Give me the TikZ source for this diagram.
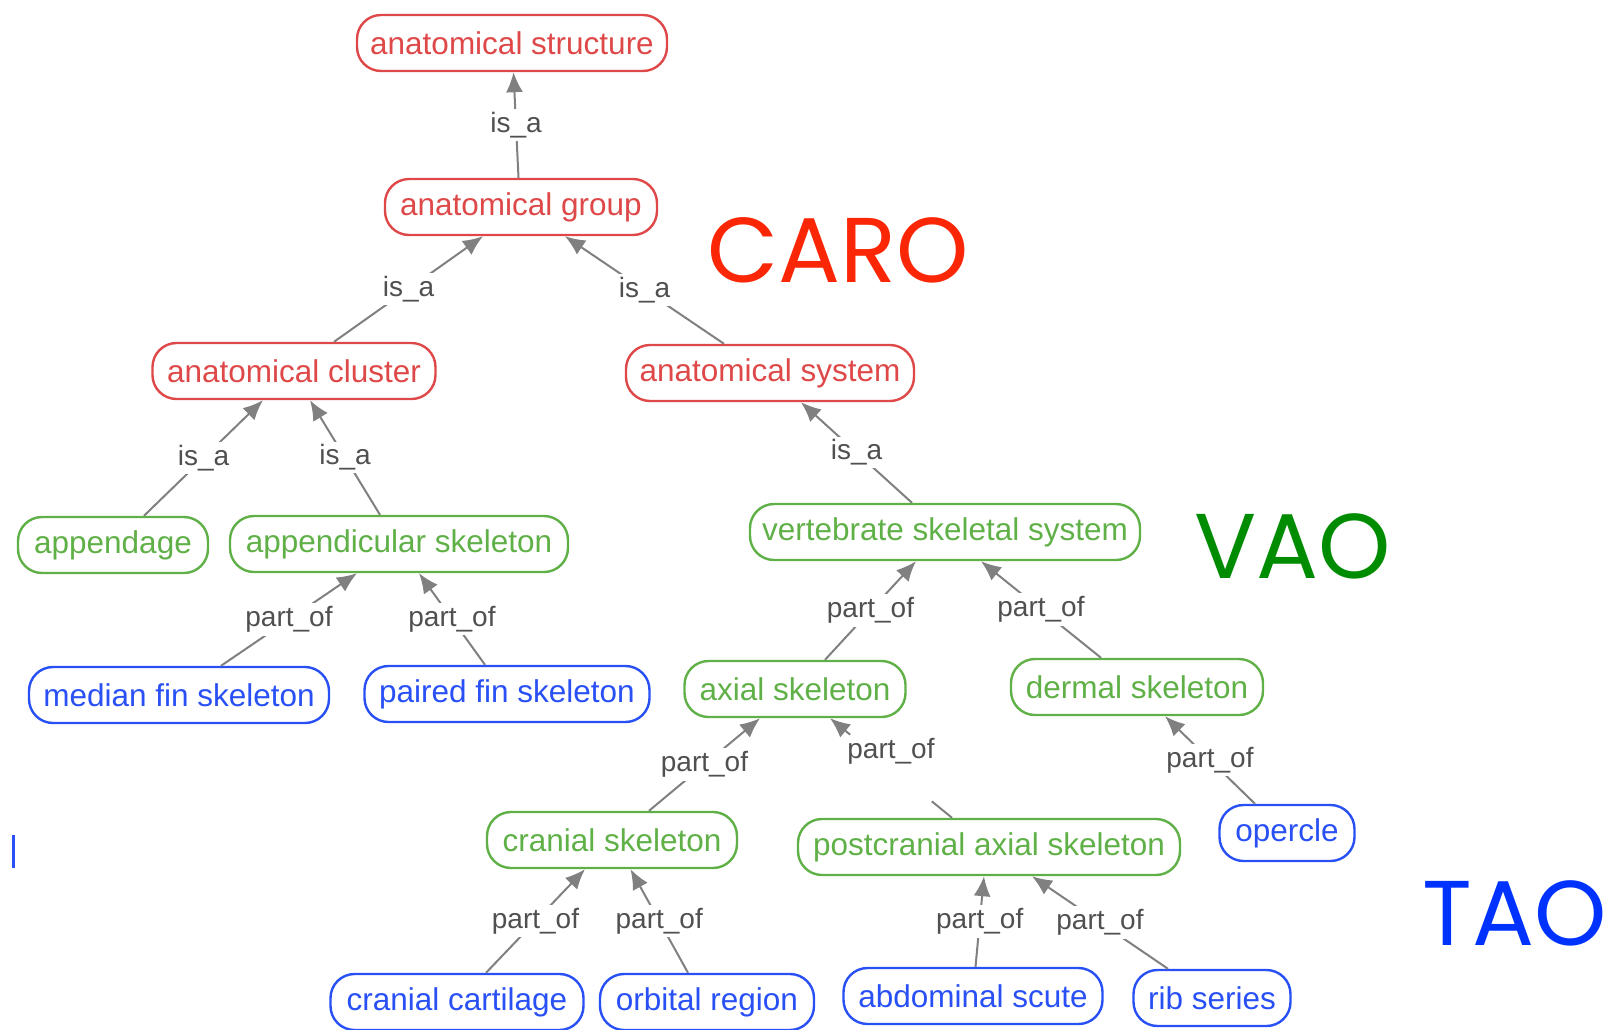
\documentclass[tikz,border=0pt]{standalone}
\usepackage{fontspec}
\setmainfont{Liberation Sans}
\newfontfamily\bigfont{Poppins}
\usetikzlibrary{arrows.meta,calc}
\definecolor{cred}{RGB}{222,72,72}
\definecolor{cgreen}{RGB}{96,176,72}
\definecolor{cblue}{RGB}{40,80,245}
\definecolor{cgray}{RGB}{128,128,128}
\definecolor{lgray}{RGB}{80,80,80}
\definecolor{bigred}{RGB}{250,38,5}
\definecolor{biggreen}{RGB}{0,140,0}
\definecolor{bigblue}{RGB}{0,50,255}
\tikzset{
  box/.style={draw, rounded corners=24pt, line width=2.4pt, minimum height=56pt,
    inner sep=0pt, font=\fontsize{31.5}{33}\selectfont},
  redbox/.style={box, draw=cred, text=cred},
  greenbox/.style={box, draw=cgreen, text=cgreen},
  bluebox/.style={box, draw=cblue, text=cblue},
  conn/.style={draw=cgray, line width=2pt, -{Latex[length=20pt,width=17pt]}},
  plainconn/.style={draw=cgray, line width=2pt},
  lab/.style={fill=white, text=lgray, inner sep=3pt, font=\fontsize{28}{30}\selectfont},
  big/.style={font=\bigfont\fontsize{92}{96}\selectfont, inner sep=0pt}
}
\begin{document}
\begin{tikzpicture}[x=1pt,y=-1pt]
\useasboundingbox (0,0) rectangle (1610,1029);
% nodes
\node[redbox, minimum width=310pt] (structure) at (512,43) {anatomical structure};
\node[redbox, minimum width=272pt] (group) at (521,207) {anatomical group};
\node[redbox, minimum width=283pt] (cluster) at (294,371) {anatomical cluster};
\node[redbox, minimum width=288pt] (system) at (770,373) {anatomical system};
\node[greenbox, minimum width=190pt] (appendage) at (113,545) {appendage};
\node[greenbox, minimum width=338pt] (appendicular) at (399,544) {appendicular skeleton};
\node[greenbox, minimum width=390pt] (vss) at (945,532) {vertebrate skeletal system};
\node[bluebox, minimum width=300pt] (median) at (179,695) {median fin skeleton};
\node[bluebox, minimum width=285pt] (paired) at (507,694) {paired fin skeleton};
\node[greenbox, minimum width=221pt] (axial) at (795,689) {axial skeleton};
\node[greenbox, minimum width=252pt] (dermal) at (1137,687) {dermal skeleton};
\node[greenbox, minimum width=250pt] (cranialsk) at (612,840) {cranial skeleton};
\node[greenbox, minimum width=382pt] (postcr) at (989,847) {postcranial axial skeleton};
\node[bluebox, minimum width=135pt] (opercle) at (1287,833) {opercle};
\node[bluebox, minimum width=253pt] (cartilage) at (457,1002) {cranial cartilage};
\node[bluebox, minimum width=214pt] (orbital) at (707,1002) {orbital region};
\node[bluebox, minimum width=259pt] (scute) at (973,996) {abdominal scute};
\node[bluebox, minimum width=157pt] (rib) at (1212,998) {rib series};
% connectors
\draw[conn] ([xshift=-2.5pt]group.north) -- node[lab] {is\_a} ([xshift=1.5pt]structure.south);
\draw[conn] ([xshift=40pt]cluster.north) -- node[lab] {is\_a} ([xshift=-38pt]group.south);
\draw[conn] ([xshift=-46pt]system.north) -- node[lab] {is\_a} ([xshift=44pt]group.south);
\draw[conn] ([xshift=31pt]appendage.north) -- node[lab] {is\_a} ([xshift=-31pt]cluster.south);
\draw[conn] ([xshift=-19pt]appendicular.north) -- node[lab] {is\_a} ([xshift=16pt]cluster.south);
\draw[conn] ([xshift=-33pt]vss.north) -- node[lab] {is\_a} ([xshift=31pt]system.south);
\draw[conn] ([xshift=42pt]median.north) -- node[lab] {part\_of} ([xshift=-42pt]appendicular.south);
\draw[conn] ([xshift=-22pt]paired.north) -- node[lab] {part\_of} ([xshift=20pt]appendicular.south);
\draw[conn] ([xshift=30pt]axial.north) -- node[lab] {part\_of} ([xshift=-29pt]vss.south);
\draw[conn] ([xshift=-36pt]dermal.north) -- node[lab] {part\_of} ([xshift=36pt]vss.south);
\draw[conn] ([xshift=37pt]cranialsk.north) -- node[lab] {part\_of} ([xshift=-35pt]axial.south);
% postcranial -> axial, interrupted
\coordinate (pA) at ([xshift=-37pt]postcr.north);
\coordinate (pB) at ([xshift=35pt]axial.south);
\draw[plainconn] (pA) -- ($(pA)!0.165!(pB)$);
\draw[conn] ($(pA)!0.835!(pB)$) -- (pB);
\node[lab, fill=none] (plab) at ($($(pA)!0.5!(pB)$)+(0,-17)$) {part\_of};
\draw[conn] ([xshift=-32pt]opercle.north) -- node[lab] {part\_of} ([xshift=28pt]dermal.south);
\draw[conn] ([xshift=29pt]cartilage.north) -- node[lab] {part\_of} ([xshift=-27pt]cranialsk.south);
\draw[conn] ([xshift=-19pt]orbital.north) -- node[lab] {part\_of} ([xshift=18.5pt]cranialsk.south);
\draw[conn] ([xshift=2.5pt]scute.north) -- node[lab] {part\_of} ([xshift=-5pt]postcr.south);
\draw[conn] ([xshift=-44pt]rib.north) -- node[lab] {part\_of} ([xshift=43pt]postcr.south);
% big labels
\node[big, text=bigred] (caro) at (838,250) {CARO};
\node[big, text=biggreen] (vao) at (1293,546) {VAO};
\node[big, text=bigblue] (tao) at (1515,913) {TAO};
% small blue mark at left edge
\draw[cblue, line width=3pt] (13,835) -- (13,868);
\end{tikzpicture}
\end{document}
